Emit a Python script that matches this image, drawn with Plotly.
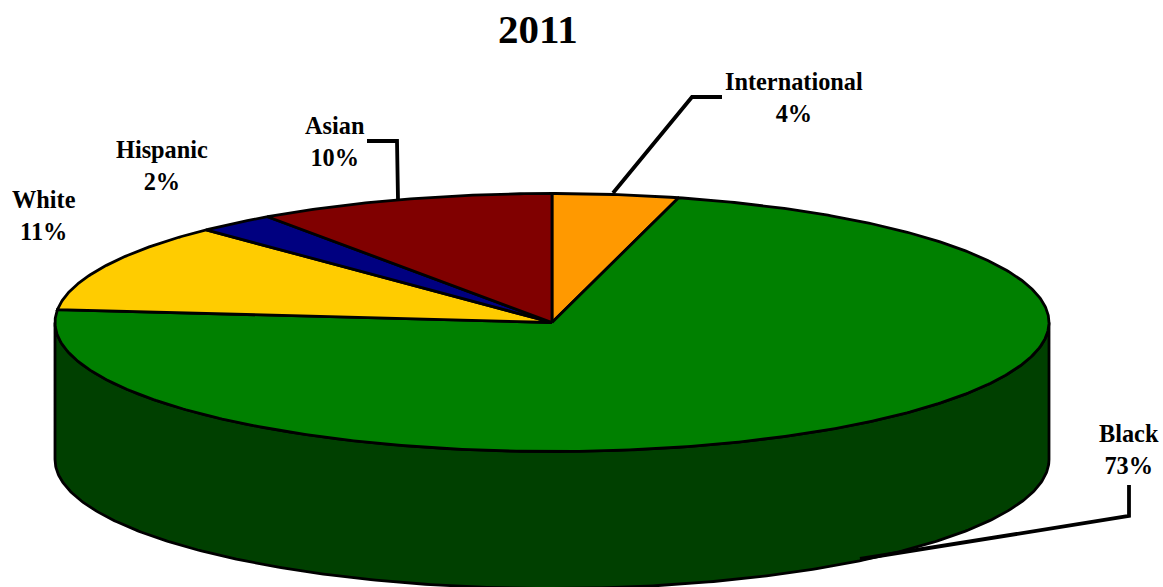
import numpy as np
import plotly.graph_objects as go

title = "2011"
categories = ["International", "Black", "White", "Hispanic", "Asian"]
shown_percent = [4, 73, 11, 2, 10]
slice_share = [4.1, 72.5, 11.15, 2.55, 9.7]
colors = ["#FF9900", "#008000", "#FFCC00", "#000080", "#800000"]
wall_color = "#004000"

W, H = 1163, 587
CX, CY, RX, RY, DEPTH = 552, 322.5, 497, 129, 137
OUTLINE = 2.8


def project(frac):
    a = np.asarray(frac) * 2 * np.pi
    return CX + RX * np.sin(a), CY - RY * np.cos(a)


fig = go.Figure()

# side wall: visible front half of the disc
t = np.linspace(0.25, 0.75, 300)
tx, ty = project(t)
wx = np.concatenate([tx, tx[::-1], tx[:1]])
wy = np.concatenate([ty, ty[::-1] + DEPTH, ty[:1]])
fig.add_trace(go.Scatter(x=wx, y=wy, mode="lines", fill="toself", fillcolor=wall_color,
                         line=dict(color="black", width=OUTLINE), hoverinfo="skip",
                         showlegend=False))

# top face slices
edges = np.concatenate([[0], np.cumsum(slice_share)]) / sum(slice_share)
for i, name in enumerate(categories):
    n = max(int((edges[i + 1] - edges[i]) * 800), 12)
    f = np.linspace(edges[i], edges[i + 1], n)
    ax, ay = project(f)
    fig.add_trace(go.Scatter(x=np.concatenate([[CX], ax, [CX]]),
                             y=np.concatenate([[CY], ay, [CY]]),
                             mode="lines", fill="toself", fillcolor=colors[i],
                             line=dict(color="black", width=OUTLINE), name=name,
                             showlegend=False))

# leader lines
leaders = [
    ([613, 692, 722], [193, 97, 97]),
    ([367, 397, 398], [141, 141, 200]),
    ([1129, 1129, 860], [485, 516, 559]),
]
for lx, ly in leaders:
    fig.add_trace(go.Scatter(x=lx, y=ly, mode="lines", line=dict(color="black", width=3.8),
                             hoverinfo="skip", showlegend=False))

label_pos = {
    "International": (794, 97),
    "Black": (1129, 449),
    "White": (44, 215),
    "Hispanic": (162, 165),
    "Asian": (335, 141),
}
annotations = [
    dict(x=label_pos[c][0], y=label_pos[c][1], xref="x", yref="y",
         text=f"<b>{c}<br>{p}%</b>", showarrow=False, align="center",
         xanchor="center", yanchor="middle",
         font=dict(family="Liberation Serif", size=24.3, color="black"))
    for c, p in zip(categories, shown_percent)
]
annotations.append(dict(x=538, y=29, xref="x", yref="y", text=f"<b>{title}</b>",
                        showarrow=False, xanchor="center", yanchor="middle",
                        font=dict(family="Liberation Serif", size=41, color="black")))

fig.update_layout(
    width=W, height=H, margin=dict(l=0, r=0, t=0, b=0),
    paper_bgcolor="white", plot_bgcolor="white", annotations=annotations,
    xaxis=dict(range=[0, W], visible=False, fixedrange=True),
    yaxis=dict(range=[H, 0], visible=False, fixedrange=True),
)
fig.write_html("out.html", config={"displayModeBar": False},
               post_script="document.body.style.margin='0';document.documentElement.style.overflow='hidden';")
